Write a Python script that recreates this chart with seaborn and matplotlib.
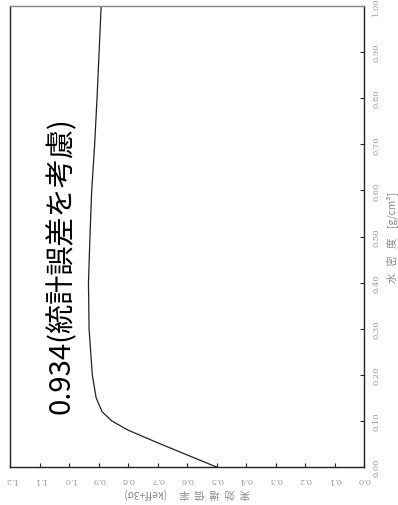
import matplotlib
matplotlib.use("Agg")
import matplotlib.pyplot as plt
import seaborn as sns
import pandas as pd

# Water density [g/cm3] and effective multiplication factor (keff + 3 sigma)
density = [0.00, 0.05, 0.08, 0.10, 0.12, 0.15, 0.20, 0.30, 0.40,
           0.50, 0.60, 0.70, 0.80, 0.90, 1.00]
keff = [0.500, 0.690, 0.800, 0.855, 0.888, 0.908, 0.921, 0.932, 0.934,
        0.929, 0.923, 0.913, 0.905, 0.898, 0.891]

keff_ticks = [1.2, 1.1, 1.0, 0.9, 0.8, 0.7, 0.6, 0.5, 0.4, 0.3, 0.2, 0.1, 0.0]
density_ticks = [0.00, 0.10, 0.20, 0.30, 0.40, 0.50, 0.60, 0.70, 0.80, 0.90, 1.00]

annotation = "0.934(統計誤差を考慮)"
keff_label = "実  効  増  倍  率     (keff+3σ)"
density_label = "水   密   度    [g/cm³]"

sns.set_theme(style="white")
plt.rcParams["font.family"] = ["Noto Sans CJK JP", "DejaVu Sans"]

df = pd.DataFrame({"keff": keff, "density": density})

fig = plt.figure(figsize=(3.98, 5.06), dpi=100)
ax = fig.add_axes([10 / 398, 38 / 506, 354 / 398, 461 / 506])

sns.lineplot(data=df, x="keff", y="density", sort=False, color="#222222",
             linewidth=0.9, ax=ax)

ax.set_xlim(1.2, 0.0)
ax.set_ylim(0.0, 1.0)
ax.yaxis.tick_right()
ax.yaxis.set_label_position("right")

ax.set_xticks(keff_ticks)
ax.set_xticklabels([f"{v:.1f}" for v in keff_ticks], rotation=180,
                   fontsize=6, color="#9a9a9a", family="DejaVu Serif")
ax.set_yticks(density_ticks)
ax.set_yticklabels([f"{v:.2f}" for v in density_ticks], rotation=90,
                   va="center", fontsize=6, color="#9a9a9a",
                   family="DejaVu Serif")
ax.tick_params(axis="both", direction="in", length=3, width=0.8,
               color="#222222", pad=6, bottom=True, right=True,
               left=False, top=False)

for side in ["left", "right", "bottom"]:
    ax.spines[side].set_color("#222222")
    ax.spines[side].set_linewidth(1.0)
ax.spines["top"].set_color("#888888")
ax.spines["top"].set_linewidth(1.0)

ax.set_xlabel(keff_label, rotation=180, fontsize=7.5, color="#8a8a8a",
              labelpad=3)
ax.set_ylabel(density_label, rotation=90, fontsize=7.5, color="#8a8a8a",
              labelpad=4)

ax.text(1.024, 0.44, annotation, rotation=90, ha="center", va="center",
        fontsize=21, color="black")

fig.savefig("out.png", dpi=100)
